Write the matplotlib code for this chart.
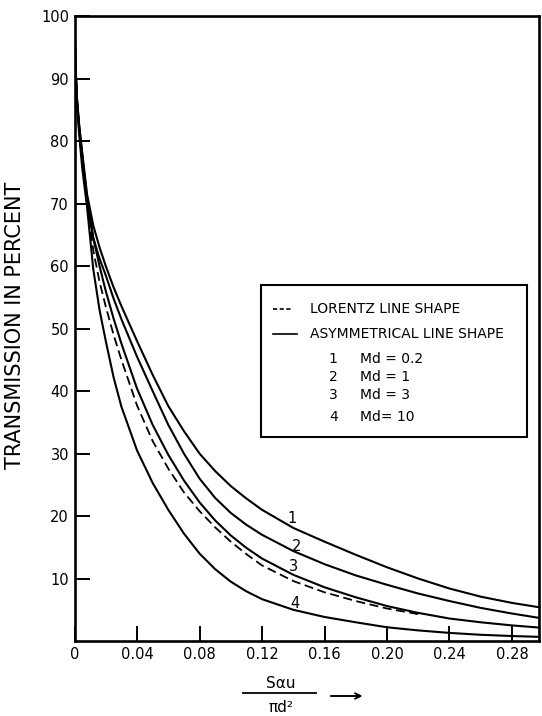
import numpy as np
import matplotlib
matplotlib.use("Agg")
import matplotlib.pyplot as plt
from matplotlib.patches import Rectangle
from matplotlib.lines import Line2D

# S*alpha*u / (pi d^2) values
x_vals = [0, 0.0005, 0.0015, 0.003, 0.005, 0.008, 0.012, 0.016, 0.02, 0.025,
          0.03, 0.04, 0.05, 0.06, 0.07, 0.08, 0.09, 0.10, 0.11, 0.12,
          0.14, 0.16, 0.18, 0.20, 0.22, 0.24, 0.26, 0.28, 0.30]

# transmission (%) for the asymmetrical line shape, curves 1-4
t_md02 = [100, 93, 87, 82.5, 78, 71.5, 66.5, 63, 60, 56.6,
          53.6, 48.0, 42.6, 37.6, 33.6, 30.0, 27.2, 24.8, 22.8, 21.0,
          18.1, 15.9, 13.8, 11.8, 10.0, 8.4, 7.1, 6.1, 5.3]
t_md1 = [100, 93, 87, 82.3, 77.6, 71, 64.5, 61.2, 58.5, 54.8,
         51.5, 45.5, 40.0, 34.6, 30.0, 26.0, 22.9, 20.5, 18.6, 17.0,
         14.4, 12.3, 10.5, 9.0, 7.6, 6.4, 5.3, 4.4, 3.6]
t_md3 = [100, 93, 86.5, 82, 77, 70.5, 64.5, 60.0, 56.0, 51.6,
         47.6, 40.4, 34.6, 29.8, 25.7, 22.2, 19.3, 16.9, 14.9, 13.2,
         10.6, 8.6, 7.0, 5.6, 4.5, 3.6, 3.0, 2.5, 2.1]
t_md10 = [100, 92.5, 86, 81, 75.5, 69.5, 59.5, 53, 48, 42.2,
          37.5, 30.5, 25.3, 21.0, 17.2, 14.0, 11.5, 9.5, 7.95, 6.7,
          5.0, 3.85, 3.0, 2.2, 1.7, 1.3, 1.0, 0.8, 0.65]
# Lorentz line shape (dashed), drawn up to x = 0.22
t_lorentz = [100, 93, 86.5, 81.5, 76.5, 70, 62.5, 57.5, 53.5, 49.0,
             45.0, 37.7, 32.0, 27.6, 23.8, 20.8, 18.2, 15.9, 13.9, 12.1,
             9.6, 7.8, 6.4, 5.2, 4.3]

curve_numbers = ["1", "2", "3", "4"]
md_labels = ["Md = 0.2", "Md = 1", "Md = 3", "Md= 10"]
# where the curve numbers sit (x, transmission)
num_pos = [(0.139, 19.6), (0.142, 15.1), (0.140, 12.0), (0.141, 6.0)]

x_ticks = [0, 0.04, 0.08, 0.12, 0.16, 0.20, 0.24, 0.28]
x_ticklabels = ["0", "0.04", "0.08", "0.12", "0.16", "0.20", "0.24", "0.28"]
y_ticks = [10, 20, 30, 40, 50, 60, 70, 80, 90, 100]

fig = plt.figure(figsize=(5.42, 7.16), dpi=100)
ax = fig.add_axes([0.1375, 0.1047, 0.857, 0.8729])

for t in [t_md02, t_md1, t_md3, t_md10]:
    ax.plot(x_vals, t, color="black", lw=1.5, solid_joinstyle="round")
ax.plot(x_vals[:len(t_lorentz)], t_lorentz, color="black", lw=1.3,
        linestyle=(0, (5, 2.5)))

for n, (px, py) in zip(curve_numbers, num_pos):
    ax.text(px, py, n, ha="center", va="center", fontsize=10.5)

ax.set_xlim(0, 0.2973)
ax.set_ylim(0, 100)
ax.set_xticks(x_ticks)
ax.set_xticklabels(x_ticklabels)
ax.set_yticks(y_ticks)
ax.tick_params(direction="in", length=11, width=1.4, labelsize=10.5, pad=4)
for s in ax.spines.values():
    s.set_linewidth(1.9)

# legend box drawn by hand
ax.add_patch(Rectangle((0.401, 0.327), 0.574, 0.243, transform=ax.transAxes,
                       fill=False, lw=1.5, color="black"))
ax.add_line(Line2D([0.428, 0.471], [0.532, 0.532], transform=ax.transAxes,
                   color="black", lw=1.2, linestyle=(0, (2.5, 1.5))))
ax.add_line(Line2D([0.428, 0.478], [0.492, 0.492], transform=ax.transAxes,
                   color="black", lw=1.2))
ax.text(0.507, 0.532, "LORENTZ LINE SHAPE", transform=ax.transAxes,
        va="center", fontsize=10)
ax.text(0.507, 0.492, "ASYMMETRICAL LINE SHAPE", transform=ax.transAxes,
        va="center", fontsize=10)
rows_y = [0.4508, 0.423, 0.3936, 0.3589]
for n, lab, ry in zip(curve_numbers, md_labels, rows_y):
    ax.text(0.557, ry, n, transform=ax.transAxes, ha="center", va="center",
            fontsize=10)
    ax.text(0.6146, ry, lab, transform=ax.transAxes, va="center", fontsize=10)

# axis titles
fig.text(0.028, 0.546, "TRANSMISSION IN PERCENT", rotation=90,
         ha="center", va="center", fontsize=15)
fig.text(281 / 542, 1 - 683 / 716, "Sαu", ha="center", va="center",
         fontsize=11)
fig.add_artist(Line2D([243 / 542, 316 / 542], [1 - 693 / 716, 1 - 693 / 716],
                      transform=fig.transFigure, color="black", lw=1.3))
fig.text(281 / 542, 1 - 708 / 716, "πd²", ha="center", va="center",
         fontsize=11)
fig.add_artist(plt.annotate("", xy=(365 / 542, 1 - 696 / 716),
                            xytext=(328 / 542, 1 - 696 / 716),
                            xycoords="figure fraction",
                            arrowprops=dict(arrowstyle="->", lw=1.1)))

fig.savefig("out.png", dpi=100)
